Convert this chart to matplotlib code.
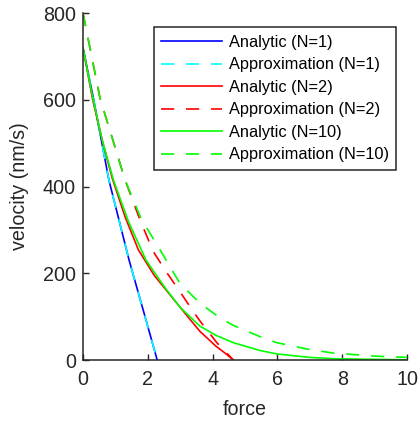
import matplotlib
matplotlib.use("Agg")
import matplotlib.pyplot as plt

plt.rcParams['font.family'] = ['Liberation Sans', 'DejaVu Sans']
plt.rcParams['lines.scale_dashes'] = False

# ---- data ----
f_an1 = [0, 0.32, 0.80, 1.42, 1.90, 2.29]
v_an1 = [720, 604, 415, 231, 104, 0]

f_ap1 = [0, 0.32, 0.80, 1.42, 1.90, 2.29]
v_ap1 = [720, 604, 415, 231, 104, 0]

f_an2 = [0, 0.30, 0.60, 0.90, 1.30, 1.71, 2.20, 2.69, 3.20, 3.61, 4.10, 4.40, 4.64]
v_an2 = [720, 600, 505, 420, 330, 254, 195, 150, 103, 66, 32, 15, 0]

f_ap2 = [0, 0.525, 1.30, 1.75, 2.17, 2.60, 2.99, 3.40, 3.61, 4.13, 4.64]
v_ap2 = [800, 604, 415, 325, 250, 200, 158, 112, 90, 40, 0]

f_an10 = [0, 0.30, 0.60, 0.94, 1.40, 1.94, 2.50, 2.99, 3.61, 4.10, 4.64, 5.46, 5.98, 7.00, 7.73, 8.50, 10.0]
v_an10 = [720, 605, 505, 415, 320, 231, 170, 122, 78, 57, 40, 22, 14, 6, 3, 2, 0.5]

f_ap10 = [0, 0.525, 1.30, 1.80, 2.38, 2.99, 3.61, 4.23, 4.64, 5.46, 5.98, 7.00, 7.73, 9.00, 10.0]
v_ap10 = [800, 604, 415, 325, 254, 177, 131, 97, 80, 54, 40, 24, 16, 9, 6]

labels = ['Analytic (N=1)', 'Approximation (N=1)', 'Analytic (N=2)',
          'Approximation (N=2)', 'Analytic (N=10)', 'Approximation (N=10)']

xticks = [0, 2, 4, 6, 8, 10]
yticks = [0, 200, 400, 600, 800]

# ---- figure ----
fig = plt.figure(figsize=(4.18, 4.24), dpi=100)
ax = fig.add_axes([83/418, (424-360)/424, (407-83)/418, (360-13.2)/424])

lw = 1.2
dash = (0, (9.5, 8.5))
ax.plot(f_an1, v_an1, color=(0, 0, 1), lw=lw, label=labels[0])
ax.plot(f_ap1, v_ap1, color=(0, 1, 1), lw=lw, ls=dash, label=labels[1])
ax.plot(f_an2, v_an2, color=(1, 0, 0), lw=lw, label=labels[2])
ax.plot(f_ap2, v_ap2, color=(1, 0, 0), lw=lw, ls=dash, label=labels[3])
ax.plot(f_an10, v_an10, color=(0, 1, 0), lw=lw, label=labels[4])
ax.plot(f_ap10, v_ap10, color=(0, 1, 0), lw=lw, ls=dash, label=labels[5])

ax.set_xlim(0, 10)
ax.set_ylim(0, 800)
ax.set_xticks(xticks)
ax.set_yticks(yticks)

axc = '#262626'
for s in ['top', 'right']:
    ax.spines[s].set_visible(False)
for s in ['left', 'bottom']:
    ax.spines[s].set_color(axc)
    ax.spines[s].set_linewidth(1.1)
ax.tick_params(direction='in', length=4, width=1.0, colors=axc, labelsize=14.2,
               labelcolor=axc)
ax.tick_params(axis='x', pad=7)
ax.tick_params(axis='y', pad=5)

ax.set_xlabel('force', fontsize=14.2, color=axc, labelpad=8)
ax.set_ylabel('velocity (nm/s)', fontsize=14.2, color=axc, labelpad=10)

leg = ax.legend(loc='upper right', bbox_to_anchor=(0.966, 0.959), borderaxespad=0,
                fontsize=11.8, handlelength=3.7, handletextpad=0.4,
                labelspacing=0.46, borderpad=0.45, fancybox=False, framealpha=1)
leg.get_frame().set_edgecolor(axc)
leg.get_frame().set_linewidth(1.1)

fig.savefig('out.png', dpi=100)
